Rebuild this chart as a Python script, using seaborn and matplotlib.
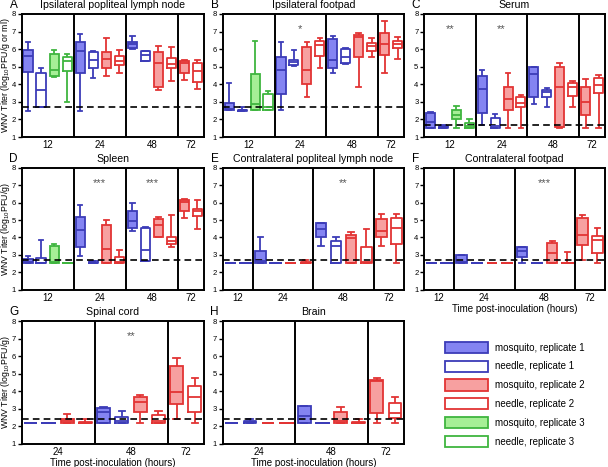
import numpy as np
import pandas as pd
import matplotlib
matplotlib.use("Agg")
import matplotlib.pyplot as plt
import seaborn as sns
from matplotlib.patches import Patch

plt.rcParams["font.family"] = ["Liberation Sans", "DejaVu Sans"]
plt.rcParams["mathtext.default"] = "regular"

# series codes: m = mosquito (filled box), n = needle (open box), digit = replicate
layout_full = [("12", "m1"), ("12", "n1"), ("12", "m3"), ("12", "n3"),
               ("24", "m1"), ("24", "n1"), ("24", "m2"), ("24", "n2"),
               ("48", "m1"), ("48", "n1"), ("48", "m2"), ("48", "n2"),
               ("72", "m2"), ("72", "n2")]
layout_contra = [("12", "m1"), ("12", "n1"),
                 ("24", "m1"), ("24", "n1"), ("24", "m2"), ("24", "n2"),
                 ("48", "m1"), ("48", "n1"), ("48", "m2"), ("48", "n2"),
                 ("72", "m2"), ("72", "n2")]
layout_cns = [("24", "m1"), ("24", "n1"), ("24", "m2"), ("24", "n2"),
              ("48", "m1"), ("48", "n1"), ("48", "m2"), ("48", "n2"),
              ("72", "m2"), ("72", "n2")]

# five-number summaries [min, q1, median, q3, max], one per slot of the layout
ipsi_lymph = [[2.5, 4.7, 5.6, 5.95, 6.4], [2.7, 2.7, 3.7, 4.65, 4.95],
              [4.43, 4.46, 4.8, 5.7, 5.95], [3.0, 4.75, 5.35, 5.53, 5.72],
              [2.5, 4.65, 5.9, 6.42, 6.85], [4.37, 4.9, 5.38, 5.85, 5.9],
              [4.45, 4.9, 5.42, 5.85, 6.65], [4.65, 5.1, 5.32, 5.6, 5.97],
              [6.0, 6.04, 6.3, 6.42, 6.75], [5.3, 5.35, 5.65, 5.9, 5.92],
              [3.7, 3.86, 5.2, 5.82, 6.18], [4.18, 4.94, 5.13, 5.5, 6.1],
              [4.27, 4.65, 5.2, 5.35, 5.4], [3.76, 4.14, 4.77, 5.2, 5.4]]
ipsi_footpad = [[2.52, 2.52, 2.6, 2.95, 4.1], [2.5, 2.5, 2.52, 2.55, 2.7],
                [2.52, 2.52, 2.9, 4.56, 6.46], [2.52, 2.55, 2.7, 3.42, 3.62],
                [2.52, 3.47, 4.8, 5.53, 6.38], [5.05, 5.1, 5.28, 5.41, 5.95],
                [3.29, 3.99, 4.84, 6.1, 6.42], [4.94, 5.62, 6.23, 6.46, 6.61],
                [4.65, 4.9, 5.38, 6.55, 6.75], [5.13, 5.19, 5.53, 6.0, 6.08],
                [3.86, 5.53, 6.67, 6.8, 6.9], [5.53, 5.9, 6.19, 6.36, 6.65],
                [4.65, 5.66, 6.29, 6.9, 7.62], [5.43, 6.04, 6.3, 6.46, 6.67]]
serum = [[1.54, 1.54, 1.85, 2.35, 2.43], [1.52, 1.52, 1.55, 1.6, 1.7],
         [1.54, 2.05, 2.24, 2.56, 2.75], [1.54, 1.54, 1.6, 1.82, 2.0],
         [1.7, 2.37, 3.76, 4.48, 4.8], [1.54, 1.54, 1.6, 2.1, 2.33],
         [1.54, 2.52, 3.15, 3.86, 4.65], [1.54, 2.68, 2.94, 3.25, 3.38],
         [2.87, 3.25, 4.58, 4.96, 5.0], [2.72, 3.28, 3.57, 3.67, 3.8],
         [1.54, 1.57, 3.82, 4.99, 5.22], [2.72, 3.34, 3.82, 4.08, 4.2],
         [1.54, 2.24, 3.0, 3.86, 4.29], [1.54, 3.48, 3.95, 4.33, 4.52]]
spleen = [[2.51, 2.51, 2.6, 2.74, 2.95], [2.51, 2.51, 2.55, 2.84, 3.86],
          [2.51, 2.51, 2.6, 3.51, 3.65], [2.51, 2.51, 2.51, 2.51, 2.51],
          [2.93, 3.47, 4.4, 5.2, 5.84], [2.51, 2.51, 2.51, 2.65, 2.65],
          [2.51, 2.51, 3.32, 4.72, 5.02], [2.51, 2.51, 2.6, 2.89, 3.28],
          [4.38, 4.53, 4.96, 5.5, 5.98], [2.66, 2.66, 3.28, 4.53, 4.6],
          [4.0, 4.05, 4.72, 5.05, 5.2], [3.43, 3.63, 3.82, 4.01, 5.3],
          [5.11, 5.5, 6.03, 6.13, 6.23], [4.47, 5.24, 5.5, 5.63, 6.17]]
contra_lymph = [[2.52, 2.52, 2.52, 2.52, 2.52], [2.52, 2.52, 2.52, 2.52, 2.52],
                [2.52, 2.52, 2.62, 3.23, 4.0], [2.52, 2.52, 2.52, 2.52, 2.52],
                [2.52, 2.52, 2.52, 2.52, 2.52], [2.52, 2.52, 2.55, 2.6, 2.7],
                [3.52, 4.0, 4.47, 4.81, 4.85], [2.52, 2.52, 3.48, 3.8, 4.0],
                [2.52, 2.52, 3.95, 4.14, 4.32], [2.52, 2.52, 2.56, 3.46, 4.47],
                [3.52, 4.03, 4.37, 5.04, 5.33], [2.52, 3.65, 4.53, 5.14, 5.33]]
contra_footpad = [[2.53, 2.53, 2.53, 2.53, 2.53], [2.53, 2.53, 2.53, 2.53, 2.53],
                  [2.53, 2.53, 2.6, 2.99, 3.0], [2.53, 2.53, 2.53, 2.53, 2.53],
                  [2.53, 2.53, 2.53, 2.53, 2.53], [2.53, 2.53, 2.53, 2.53, 2.53],
                  [2.53, 2.86, 3.2, 3.43, 3.45], [2.53, 2.53, 2.53, 2.53, 2.53],
                  [2.53, 2.53, 3.09, 3.68, 3.82], [2.53, 2.53, 2.53, 2.55, 3.18],
                  [2.7, 3.57, 4.16, 5.12, 5.31], [2.53, 3.1, 3.87, 4.07, 4.55]]
spinal_cord = [[2.22, 2.22, 2.22, 2.22, 2.22], [2.22, 2.22, 2.22, 2.22, 2.22],
               [2.22, 2.22, 2.3, 2.4, 2.7], [2.22, 2.22, 2.22, 2.25, 2.43],
               [2.22, 2.22, 2.8, 3.03, 3.1], [2.22, 2.22, 2.3, 2.52, 2.88],
               [2.22, 2.84, 3.37, 3.7, 3.78], [2.22, 2.22, 2.3, 2.65, 2.88],
               [2.42, 3.27, 3.94, 5.43, 5.92], [2.22, 2.84, 3.65, 4.31, 4.73]]
brain = [[2.22, 2.22, 2.22, 2.22, 2.22], [2.22, 2.22, 2.25, 2.33, 2.4],
         [2.22, 2.22, 2.22, 2.22, 2.22], [2.22, 2.22, 2.22, 2.22, 2.22],
         [2.22, 2.22, 2.61, 3.16, 3.16], [2.22, 2.22, 2.22, 2.22, 2.22],
         [2.22, 2.22, 2.3, 2.8, 3.1], [2.22, 2.22, 2.22, 2.25, 2.42],
         [2.22, 2.78, 4.6, 4.64, 4.78], [2.22, 2.46, 2.78, 3.31, 3.7]]

series_names = {"m1": "mosquito, replicate 1", "n1": "needle, replicate 1",
                "m2": "mosquito, replicate 2", "n2": "needle, replicate 2",
                "m3": "mosquito, replicate 3", "n3": "needle, replicate 3"}
edge = {"1": "#3c3cb8", "2": "#e23434", "3": "#3fb53f"}
face = {"1": "#8484f2", "2": "#f7a0a0", "3": "#a6ef96"}

W, H = 608, 467
fig = plt.figure(figsize=(W / 100, H / 100), dpi=100)


def make_ax(l, t, r, b):
    return fig.add_axes([l / W, 1 - b / H, (r - l) / W, (b - t) / H])


def draw_panel(ax, layout, stats, limit, title, letter, stars=(), ylabel=None, xlabel=False):
    order = [h + s for h, s in layout]
    rows = []
    for (h, s), five in zip(layout, stats):
        for v in five:
            rows.append({"slot": h + s, "series": s, "value": v})
    df = pd.DataFrame(rows)
    for s in ["m1", "n1", "m2", "n2", "m3", "n3"]:
        sub = df[df["series"] == s]
        if sub.empty:
            continue
        rep = s[1]
        if s[0] == "m":
            sns.boxplot(data=sub, x="slot", y="value", order=order, ax=ax,
                        whis=(0, 100), width=0.7, saturation=1, fill=True,
                        color=face[rep], linecolor=edge[rep], linewidth=1.3,
                        showfliers=False)
        else:
            sns.boxplot(data=sub, x="slot", y="value", order=order, ax=ax,
                        whis=(0, 100), width=0.7, saturation=1, fill=False,
                        color=edge[rep], linewidth=1.3, showfliers=False)
    hours = [h for h, s in layout]
    groups = list(dict.fromkeys(hours))
    centers = [np.mean([i for i, hh in enumerate(hours) if hh == g]) for g in groups]
    for i in range(1, len(hours)):
        if hours[i] != hours[i - 1]:
            ax.axvline(i - 0.5, color="black", lw=1.4)
    ax.axhline(limit, color="black", lw=1.2, ls=(0, (4, 2.5)))
    for g, txt in stars:
        ax.text(centers[groups.index(g)], 7.15, txt, ha="center", va="center",
                fontsize=8, color="#555555")
    ax.set_xlim(-0.5, len(order) - 0.5)
    ax.set_ylim(1, 8)
    ax.set_yticks(range(1, 9))
    ax.set_xticks(centers, groups)
    ax.tick_params(axis="x", length=0, labelsize=7, pad=2.5)
    ax.tick_params(axis="y", length=3, width=1, labelsize=5.5, pad=1)
    for sp in ax.spines.values():
        sp.set_linewidth(1.4)
    ax.set_title(title, fontsize=7.6, pad=4)
    ax.set_ylabel(ylabel if ylabel else "", fontsize=6.3)
    ax.yaxis.set_label_coords(-9 / (ax.get_position().width * W), 0.5)
    ax.set_xlabel("Time post-inoculation (hours)" if xlabel else "", fontsize=7, labelpad=0.5)
    pos = ax.get_position()
    fig.text(pos.x0 - 8 / W, pos.y1 + 9 / H, letter, fontsize=8.5, ha="center", va="center")


cols = [(21.5, 204), (222.7, 404), (424, 605)]
rows_px = [(14, 137), (168, 289.5), (321, 444)]

axA = make_ax(cols[0][0], rows_px[0][0], cols[0][1], rows_px[0][1])
draw_panel(axA, layout_full, ipsi_lymph, 2.7, "Ipsilateral popliteal lymph node", "A",
           ylabel="WNV Titer (log$_{10}$PFU/g or ml)")
axB = make_ax(cols[1][0], rows_px[0][0], cols[1][1], rows_px[0][1])
draw_panel(axB, layout_full, ipsi_footpad, 2.7, "Ipsilateral footpad", "B", stars=[("24", "*")])
axC = make_ax(cols[2][0], rows_px[0][0], cols[2][1], rows_px[0][1])
draw_panel(axC, layout_full, serum, 1.7, "Serum", "C", stars=[("12", "**"), ("24", "**")])
axD = make_ax(cols[0][0], rows_px[1][0], cols[0][1], rows_px[1][1])
draw_panel(axD, layout_full, spleen, 2.7, "Spleen", "D", stars=[("24", "***"), ("48", "***")],
           ylabel="WNV Titer (log$_{10}$PFU/g)")
axE = make_ax(cols[1][0], rows_px[1][0], cols[1][1], rows_px[1][1])
draw_panel(axE, layout_contra, contra_lymph, 2.7, "Contralateral popliteal lymph node", "E",
           stars=[("48", "**")])
axF = make_ax(cols[2][0], rows_px[1][0], cols[2][1], rows_px[1][1])
draw_panel(axF, layout_contra, contra_footpad, 2.7, "Contralateral footpad", "F",
           stars=[("48", "***")], xlabel=True)
axG = make_ax(cols[0][0], rows_px[2][0], cols[0][1], rows_px[2][1])
draw_panel(axG, layout_cns, spinal_cord, 2.4, "Spinal cord", "G", stars=[("48", "**")],
           ylabel="WNV Titer (log$_{10}$PFU/g)", xlabel=True)
axH = make_ax(cols[1][0], rows_px[2][0], cols[1][1], rows_px[2][1])
draw_panel(axH, layout_cns, brain, 2.4, "Brain", "H", xlabel=True)

handles = []
for s in ["m1", "n1", "m2", "n2", "m3", "n3"]:
    rep = s[1]
    handles.append(Patch(facecolor=face[rep] if s[0] == "m" else "white",
                         edgecolor=edge[rep], linewidth=1.3, label=series_names[s]))
fig.legend(handles=handles, loc="upper left", bbox_to_anchor=(436 / W, 1 - 333 / H),
           frameon=False, fontsize=7, handlelength=4.4, handleheight=1.4,
           labelspacing=0.78, handletextpad=0.8)

fig.savefig("out.png", dpi=100)
